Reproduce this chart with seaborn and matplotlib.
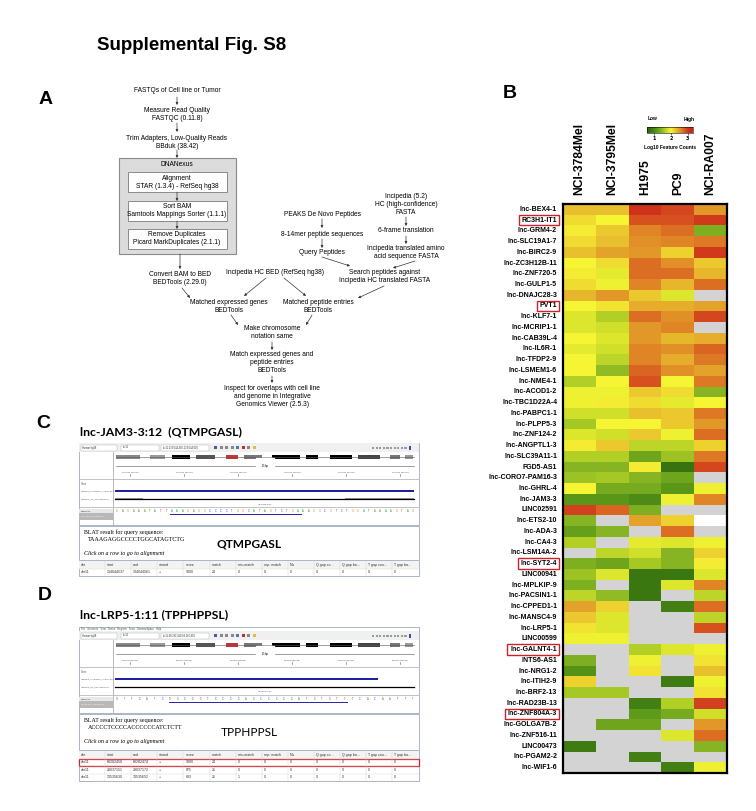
import numpy as np
import pandas as pd
import matplotlib
matplotlib.use('Agg')
import matplotlib.pyplot as plt
import seaborn as sns
from matplotlib.colors import LinearSegmentedColormap, Normalize
from matplotlib.patches import Rectangle
from matplotlib.cm import ScalarMappable

W, H = 756, 811
nan = np.nan

# ---- heatmap data (log10 feature counts) ----
genes = ['lnc-BEX4-1', 'RC3H1-IT1', 'lnc-GRM4-2', 'lnc-SLC19A1-7', 'lnc-BIRC2-9',
         'lnc-ZC3H12B-11', 'lnc-ZNF720-5', 'lnc-GULP1-5', 'lnc-DNAJC28-3', 'PVT1',
         'lnc-KLF7-1', 'lnc-MCRIP1-1', 'lnc-CAB39L-4', 'lnc-IL6R-1', 'lnc-TFDP2-9',
         'lnc-LSMEM1-6', 'lnc-NME4-1', 'lnc-ACOD1-2', 'lnc-TBC1D22A-4', 'lnc-PABPC1-1',
         'lnc-PLPP5-3', 'lnc-ZNF124-2', 'lnc-ANGPTL1-3', 'lnc-SLC39A11-1', 'FGD5-AS1',
         'lnc-CORO7-PAM16-3', 'lnc-GHRL-4', 'lnc-JAM3-3', 'LINC02591', 'lnc-ETS2-10',
         'lnc-ADA-3', 'lnc-CA4-3', 'lnc-LSM14A-2', 'lnc-SYT2-4', 'LINC00941',
         'lnc-MPLKIP-9', 'lnc-PACSIN1-1', 'lnc-CPPED1-1', 'lnc-MANSC4-9', 'lnc-LRP5-1',
         'LINC00599', 'lnc-GALNT4-1', 'INTS6-AS1', 'lnc-NRG1-2', 'lnc-ITIH2-9',
         'lnc-BRF2-13', 'lnc-RAD23B-13', 'lnc-ZNF804A-3', 'lnc-GOLGA7B-2', 'lnc-ZNF516-11',
         'LINC00473', 'lnc-PGAM2-2', 'lnc-WIF1-6']
samples = ['NCI-3784Mel', 'NCI-3795Mel', 'H1975', 'PC9', 'NCI-RA007']

nci_3784mel = [2.3, 2.15, 2.05, 2.15, 2.3, 2.0, 2.05, 2.15, 2.35, 2.0,
               1.85, 1.85, 2.0, 1.9, 2.0, 2.0, 1.65, 1.95, 1.95, 1.8,
               1.6, 1.85, 2.05, 1.65, 1.45, 1.55, 2.0, 1.15, 2.95, 1.45,
               1.25, 1.65, nan, 1.4, 1.55, 1.4, 1.7, 2.45, 2.25, 2.1,
               1.95, nan, 1.4, 1.1, 2.2, 1.6, nan, nan, nan, nan,
               0.9, nan, nan]
nci_3795mel = [2.3, 2.0, 2.25, 2.3, 2.45, 2.15, 1.9, 1.95, 2.5, 2.1,
               1.65, 1.8, 1.85, 1.8, 1.7, 1.5, 2.0, 1.95, 2.05, 1.8,
               2.0, 1.8, 2.25, 1.65, 1.45, 1.6, 1.35, 1.15, 2.75, nan,
               1.45, nan, 1.7, 1.3, 1.85, nan, 1.5, 2.2, 1.85, 1.85,
               1.95, nan, nan, nan, nan, 1.6, nan, nan, 1.3, nan,
               nan, nan, nan]
h1975 = [3.05, 2.85, 2.6, 2.55, 2.5, 2.7, 2.7, 2.6, 2.25, 2.4,
         2.7, 2.5, 2.5, 2.6, 2.6, 2.75, 2.85, 2.25, 2.15, 2.3,
         2.0, 2.25, 1.7, 1.3, 2.05, 1.45, 1.35, 1.05, 1.4, 2.45,
         nan, 1.9, 1.8, 1.6, 0.85, 0.85, 0.85, nan, nan, nan,
         nan, 1.65, 1.95, 2.1, nan, nan, 0.95, 1.2, 1.3, nan,
         nan, 0.95, nan]
pc9 = [2.9, 2.85, 2.7, 2.6, 2.2, 2.55, 2.7, 2.35, 1.85, 2.4,
       2.55, 2.6, 2.35, 2.55, 2.4, 2.55, 2.0, 2.15, 1.9, 2.25,
       2.25, 1.95, 1.7, 1.55, 0.8, 1.3, 1.15, 1.95, nan, 2.2,
       2.7, 1.85, 1.45, 1.45, 0.85, 1.85, nan, 0.95, nan, nan,
       nan, 1.85, nan, nan, 0.9, nan, 1.65, 1.35, nan, 1.85,
       nan, nan, 0.95]
nci_ra007 = [2.5, 3.0, 1.4, 2.65, 3.0, 2.25, 2.35, 2.7, nan, 2.45,
             2.9, nan, 2.4, 2.75, 2.65, 2.45, 2.65, 1.45, 2.0, 2.65,
             2.5, 2.7, 2.2, 2.65, 2.9, nan, 1.95, 2.6, nan, 0.0,
             nan, 1.95, 2.2, 2.05, 1.85, 2.6, 1.7, 2.7, 1.7, 2.85,
             nan, 1.95, 2.1, 2.3, 1.95, 2.1, 2.95, 1.8, 2.5, 2.7,
             1.45, nan, 1.95]

boxed_genes = ['RC3H1-IT1', 'PVT1', 'lnc-SYT2-4', 'lnc-GALNT4-1', 'lnc-ZNF804A-3']
cbar_ticks = [1, 2, 3]

# ---- IGV / BLAT panel text ----
table_cols = ['chr', 'start', 'end', 'strand', 'score', 'match', 'mis-match', 'rep. match',
              "N's", 'Q gap co...', 'Q gap ba...', 'T gap cou...', 'T gap ba...']
blat_c = [['chr11', '134044537', '134044561', '+', '1000', '24', '0', '0', '0', '0', '0', '0', '0']]
blat_d = [['chr11', '68282450', '68282474', '+', '1000', '24', '0', '0', '0', '0', '0', '0', '0'],
          ['chr11', '28037151', '28037172', '+', '875', '21', '0', '0', '0', '0', '0', '0', '0'],
          ['chr11', '13535630', '13535652', '+', '833', '21', '1', '0', '0', '0', '0', '0', '0']]
seq_c = 'GAGAAATATTAAAGAGGCCCCTGGCATAGTCTGAAAGGCGTCTGGATAAAAGTAG'
seq_d = 'NTTCATCNCCCCTCCCCACCCCCCATCTCTTTCACAATTT'

# colour scale green -> yellow -> red
VMIN, VMAX = 0.6, 3.3
scale_vals = [0.6, 0.9, 1.2, 1.45, 1.65, 1.85, 2.0, 2.15, 2.3, 2.45, 2.6, 2.75, 2.9, 3.05, 3.3]
scale_cols = ['#2a6408', '#3e7b12', '#5f9c1a', '#86b422', '#b2cf26', '#dbe62c', '#f6f534',
              '#f0da30', '#e8c02c', '#e3a42a', '#df8526', '#da6522', '#d4481e', '#cf321a', '#cc2418']
cmap = LinearSegmentedColormap.from_list(
    'gyr', [((v - VMIN) / (VMAX - VMIN), c) for v, c in zip(scale_vals, scale_cols)])
cmap.set_under('white')
cmap.set_bad('#d3d3d3')

df = pd.DataFrame({'NCI-3784Mel': nci_3784mel, 'NCI-3795Mel': nci_3795mel, 'H1975': h1975,
                   'PC9': pc9, 'NCI-RA007': nci_ra007}, index=genes)[samples]

SANS = 'Liberation Sans'
FLOW = 4.8
fig = plt.figure(figsize=(W / 100, H / 100), dpi=100)

# ---- B: heatmap ----
ax = fig.add_axes([563 / W, 1 - 773 / H, 164 / W, 569 / H])
ax.set_facecolor('#d3d3d3')
sns.heatmap(df, ax=ax, cmap=cmap, vmin=VMIN, vmax=VMAX, cbar=False,
            xticklabels=True, yticklabels=True)
ax.xaxis.tick_top()
ax.set_xticklabels(samples, rotation=90, fontsize=8.7, fontweight='bold', family=SANS)
ax.set_yticklabels(genes, rotation=0, fontsize=5, fontweight='bold', family=SANS)
ax.tick_params(axis='x', length=0, pad=6.5)
ax.tick_params(axis='y', length=0, pad=4.3)
ax.set_xlabel('')
ax.set_ylabel('')
for sp in ax.spines.values():
    sp.set_visible(True)
    sp.set_linewidth(1.6)
    sp.set_color('black')

cax = fig.add_axes([647 / W, 1 - 133 / H, 46 / W, 6 / H])
cb = fig.colorbar(ScalarMappable(norm=Normalize(VMIN, VMAX), cmap=cmap), cax=cax,
                  orientation='horizontal', ticks=cbar_ticks)
cb.outline.set_linewidth(0.4)
cax.tick_params(labelsize=3.5, length=1.2, width=0.4, pad=1)
for t in cax.get_xticklabels():
    t.set_fontweight('bold')

# overlay for text and drawings
ov = fig.add_axes([0, 0, 1, 1])
ov.set_xlim(0, W)
ov.set_ylim(H, 0)
ov.axis('off')


def txt(x, y, s, size=FLOW, ha='center', va='center', **kw):
    kw.setdefault('family', SANS)
    ov.text(x, y, s, fontsize=size, ha=ha, va=va, **kw)


def arrow(x1, y1, x2, y2):
    ov.annotate('', xy=(x2, y2), xytext=(x1, y1),
                arrowprops=dict(arrowstyle='-|>', lw=0.5, color='#333333',
                                mutation_scale=3.5, shrinkA=0, shrinkB=0))


def box(x, y, w, h, fc='white', ec='#888888', lw=0.6, **kw):
    ov.add_patch(Rectangle((x, y), w, h, facecolor=fc, edgecolor=ec, lw=lw, **kw))


txt(97, 46, 'Supplemental Fig. S8', size=13.5, ha='left', fontweight='bold')
for lab, x, y in [('A', 46, 99), ('B', 510, 94), ('C', 43, 423), ('D', 45, 596)]:
    txt(x, y, lab, size=14, fontweight='bold')

txt(652, 119, 'Low', size=3.5, fontweight='bold')
txt(689, 119, 'High', size=3.5, fontweight='bold')
txt(670, 147, 'Log10 Feature Counts', size=3.5, fontweight='bold')

# red boxes around highlighted genes
fig.canvas.draw()
rend = fig.canvas.get_renderer()
for t in ax.get_yticklabels():
    if t.get_text() in boxed_genes:
        bb = t.get_window_extent(rend)
        yc = H - (bb.y0 + bb.y1) / 2
        box(bb.x0 - 3, yc - 5.2, bb.x1 - bb.x0 + 5, 10.4, fc='none', ec='#d0202a', lw=1.0)

# ---- A: workflow ----
box(119, 158, 117, 96, fc='#dcdcdc', ec='#8a8a8a', lw=0.8)
for y0 in [172, 201, 229]:
    box(128, y0, 99, 20, fc='white', ec='#8a8a8a', lw=0.7)

flow = [(177, 91, 'FASTQs of Cell line or Tumor'),
        (177, 111, 'Measure Read Quality'), (177, 118.5, 'FASTQC (0.11.8)'),
        (177, 138, 'Trim Adapters, Low-Quality Reads'), (177, 146, 'BBduk (38.42)'),
        (177, 165, 'DNANexus'),
        (177, 178, 'Alignment'), (177, 186, 'STAR (1.3.4) - RefSeq hg38'),
        (177, 207, 'Sort BAM'), (177, 215, 'Samtools Mappings Sorter (1.1.1)'),
        (177, 235, 'Remove Duplicates'), (177, 243, 'Picard MarkDuplicates (2.1.1)'),
        (322, 214, 'PEAKS De Novo Peptides'),
        (322, 234, '8-14mer peptide sequences'),
        (322, 253, 'Query Peptides'),
        (406, 197, 'Incipedia (5.2)'), (406, 205, 'HC (high-confidence)'), (406, 213, 'FASTA'),
        (406, 231, '6-frame translation'),
        (406, 249, 'Incipedia translated amino'), (406, 257, 'acid sequence FASTA'),
        (385, 273, 'Search peptides against'), (385, 281, 'Incipedia HC translated FASTA'),
        (180, 275, 'Convert BAM to BED'), (180, 283, 'BEDTools (2.29.0)'),
        (275, 273, 'Incipedia HC BED (RefSeq hg38)'),
        (229, 302, 'Matched expressed genes'), (229, 310, 'BEDTools'),
        (318, 302, 'Matched peptide entries'), (318, 310, 'BEDTools'),
        (272, 329, 'Make chromosome'), (272, 337, 'notation same'),
        (272, 355, 'Match expressed genes and'), (272, 363, 'peptide entries'), (272, 371, 'BEDTools'),
        (272, 388, 'Inspect for overlaps with cell line'), (272, 396, 'and genome in Integrative'),
        (272, 404, 'Genomics Viewer (2.5.3)')]
for x, y, s in flow:
    txt(x, y, s)

for a in [(177, 97, 177, 105), (177, 123, 177, 132), (177, 150, 177, 158),
          (177, 192, 177, 201), (177, 221, 177, 229), (180, 254, 180, 269),
          (322, 219, 322, 228), (322, 239, 322, 248), (406, 217, 406, 226),
          (406, 236, 406, 244), (415, 261, 393, 268), (322, 257, 350, 266),
          (266, 278, 244, 296), (284, 278, 306, 296), (182, 288, 190, 298),
          (384, 286, 358, 298), (231, 315, 238, 325), (312, 315, 306, 325),
          (272, 342, 272, 350), (272, 376, 272, 383)]:
    arrow(*a)

# ---- C / D: genome browser screenshots ----
BASE_COL = {'A': '#2c9a2c', 'C': '#2f3fd8', 'G': '#d0891e', 'T': '#d22b2b', 'N': '#777777'}


def igv(top, menu, locus, seq, read_span, hc_gray, bar_end, feat_label, sel_label):
    x0, x1 = 79, 419
    y = top
    if menu:
        txt(x0 + 2, y + 2, 'File   Genomes   View   Tracks   Regions   Tools   GenomeSpace   Help',
            size=1.8, ha='left', color='#444444')
        y += 4
    bot = y + 82
    box(x0, top, x1 - x0, bot - top, fc='white', ec='#9eaac0', lw=0.6)
    box(x0, y, x1 - x0, 9, fc='#f0f0f0', ec='none', lw=0)
    for bx, bw, s in [(81, 36, 'Human hg38'), (121, 38, 'chr11'), (161, 48, locus)]:
        box(bx, y + 1.5, bw, 6, fc='white', ec='#b0b0b0', lw=0.3)
        txt(bx + 1.5, y + 4.5, s, size=1.8, ha='left', color='#333333')
    for k, c in enumerate(['#3a5fa8', '#888888', '#888888', '#888888', '#4a7ab8',
                           '#c03030', '#888888', '#d8c040']):
        box(214 + k * 5.5, y + 3, 3, 3, fc=c, ec='none', lw=0)
    for k in range(10):
        box(372 + k * 3.6, y + 3.5, 2.2, 2.2, fc='#9a9a9a', ec='none', lw=0)
    box(409, y + 2.5, 2, 4, fc='#3050b0', ec='none', lw=0)
    ov.plot([113, 113], [y + 9, bot], color='#b0b0b0', lw=0.6)
    # ideogram
    bands = [(116, 140, '#888888'), (150, 165, '#999999'), (172, 190, 'black'), (196, 215, '#555555'),
             (226, 238, '#cc3333'), (244, 262, '#777777'), (272, 300, 'black'), (306, 318, 'black'),
             (330, 352, 'black'), (358, 380, '#444444'), (390, 400, '#777777'), (405, 413, '#999999')]
    ov.plot([116, 414], [y + 14, y + 14], color='#555555', lw=0.4)
    for b0, b1, c in bands:
        box(b0, y + 12, b1 - b0, 3.5, fc=c, ec='none', lw=0)
    # ruler
    ov.plot([116, 414], [y + 23, y + 23], color='#555555', lw=0.4)
    txt(265, y + 23, ' 25 bp ', size=1.8, backgroundcolor='white')
    for k, xr in enumerate(np.linspace(130, 400, 6)):
        ov.plot([xr, xr], [y + 31, y + 33], color='#555555', lw=0.4)
        txt(xr, y + 29, locus.split(':')[1].split('-')[0][:-1] + str(k) + '0 bp', size=1.6, color='#444444')
    ov.plot([x0, x1], [y + 36, y + 36], color='#b8b8b8', lw=0.6)
    txt(81, y + 41, 'Gene', size=1.8, ha='left', color='#555555')
    txt(81, y + 48, 'Incipedia_expressed_lncRNA.bed', size=1.6, ha='left', color='#555555')
    txt(81, y + 56, 'Incipedia_HC_translated.bed', size=1.6, ha='left', color='#555555')
    box(115, y + 47, bar_end - 115, 2.2, fc='#1f1fa0', ec='none', lw=0)
    ov.plot([115, 414], [y + 56, y + 56], color='black', lw=0.9)
    for g0, g1 in hc_gray:
        box(g0, y + 54.7, g1 - g0, 2.6, fc='#999999', ec='none', lw=0)
    txt(265, y + 61, feat_label, size=1.6, color='#444444')
    ov.plot([x0, x1], [y + 64, y + 64], color='#b8b8b8', lw=0.6)
    box(x0, y + 66, 34, 4, fc='#e8e8e8', ec='none', lw=0)
    txt(81, y + 68, 'Sequence', size=1.6, ha='left', color='#333333')
    box(x0, y + 70, 34, 7, fc='#b8b8b8', ec='none', lw=0)
    txt(81, y + 73.5, sel_label, size=1.6, ha='left', color='white')
    xs = np.linspace(117, 413, len(seq))
    for xb, b in zip(xs, seq):
        txt(xb, y + 67.5, b, size=1.9, color=BASE_COL[b])
    box(read_span[0], y + 70.5, read_span[1] - read_span[0], 1.8, fc='#2a2ab0', ec='none', lw=0)
    return bot


def blat(top, bottom, query, peptide, bold, rows, red_row=None):
    x0, x1 = 79, 419
    box(x0, top, x1 - x0, bottom - top, fc='white', ec='#9eaac0', lw=0.6)
    txt(84, top + 6.5, 'BLAT result for query sequence:', size=4.3, ha='left', family='Liberation Serif')
    txt(88, top + 13.5, query, size=4.3, ha='left', family='Liberation Serif')
    txt(84, top + 28, 'Click on a row to go to alignment', size=4.3, ha='left',
        family='Liberation Serif', style='italic')
    txt(249, top + (bottom - top) * 0.52, peptide, size=8.6, family='Lato',
        fontweight='bold' if bold else 'normal')
    t0 = bottom + 1
    rh = 7.5
    nrow = len(rows) + 1
    box(x0, t0, x1 - x0, rh * nrow, fc='white', ec='#9eaac0', lw=0.6)
    box(x0, t0, x1 - x0, rh, fc='#f3f3f3', ec='none', lw=0)
    edges = 79 + 26.1 * np.arange(14)
    for e in edges[1:-1]:
        ov.plot([e, e], [t0, t0 + rh * nrow], color='#d0d0d0', lw=0.3)
    for r in range(1, nrow):
        ov.plot([x0, x1], [t0 + rh * r, t0 + rh * r], color='#d8d8d8', lw=0.3)
    for c, name in enumerate(table_cols):
        txt(edges[c] + 2, t0 + rh / 2, name, size=2.6, ha='left', color='#333333')
        for r, row in enumerate(rows):
            txt(edges[c] + 2, t0 + rh * (r + 1.5), row[c], size=2.6, ha='left', color='#333333')
    if red_row is not None:
        box(x0, t0 + rh * (red_row + 1), x1 - x0, rh, fc='none', ec='#d0202a', lw=0.9)


txt(80, 432, 'lnc-JAM3-3:12  (QTMPGASL)', size=8.8, ha='left', family='Lato', fontweight='bold')
b_c = igv(443, False, 'chr11:134,044,490-134,044,610', seq_c, (170, 302),
          [(115, 143), (345, 414)], 414, 'lnc-JAM3-3:12', 'lnc-JAM3-3_QTMPGASL')
blat(b_c + 1, 560, 'TAAAGAGGCCCCTGGCATAGTCTG', 'QTMPGASL', True, blat_c)

txt(80, 615, 'lnc-LRP5-1:11 (TPPHPPSL)', size=8.8, ha='left', family='Lato', fontweight='bold')
b_d = igv(627, True, 'chr11:68,282,430-68,282,490', seq_d, (169, 348),
          [], 378, 'lnc-LRP5-1:11', 'lnc-LRP5-1_TPPHPPSL')
blat(b_d + 1, 750, 'ACCCCTCCCCACCCCCCATCTCTT', 'TPPHPPSL', False, blat_d, red_row=0)

fig.savefig('out.png', dpi=100)
